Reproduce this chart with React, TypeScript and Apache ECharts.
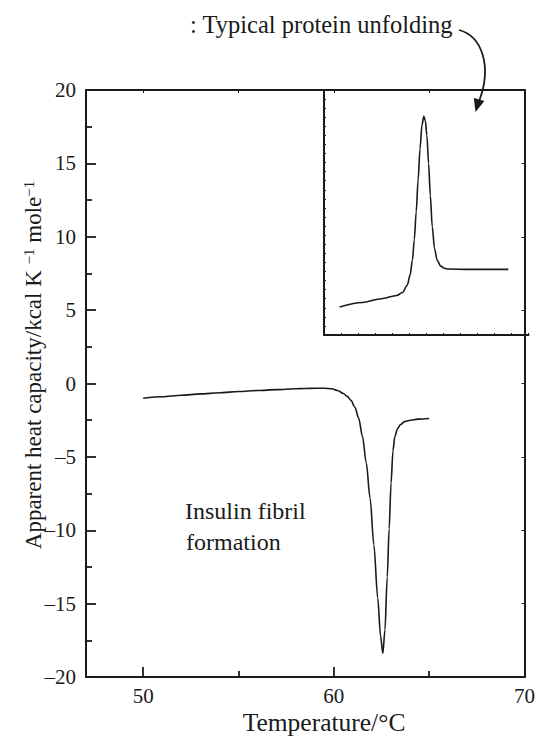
import React, { useEffect, useRef } from "react";
import * as echarts from "echarts";

// Main curve: insulin fibril formation (exothermic dip)
const mainTemp = [50, 51, 52, 53, 54, 55, 56, 57, 58, 58.5, 59, 59.5, 59.9, 60.2, 60.5, 60.7, 60.9, 61.1, 61.3, 61.5, 61.7, 61.9, 62.1, 62.3, 62.45, 62.57, 62.68, 62.8, 62.9, 63.0, 63.1, 63.2, 63.35, 63.5, 63.7, 64.0, 64.4, 65.0];
const mainCp = [-1.0, -0.9, -0.8, -0.71, -0.63, -0.55, -0.48, -0.42, -0.36, -0.34, -0.32, -0.32, -0.36, -0.48, -0.68, -0.88, -1.15, -1.6, -2.35, -3.6, -5.4, -7.8, -11.0, -14.6, -17.2, -18.4, -16.8, -13.2, -9.9, -6.8, -4.6, -3.6, -3.05, -2.8, -2.6, -2.5, -2.43, -2.38];

// Inset curve: typical protein unfolding (endothermic peak)
const insetTemp = [60.3, 61.5, 62.5, 63.3, 63.6, 63.85, 64.0, 64.12, 64.22, 64.32, 64.42, 64.52, 64.62, 64.72, 64.8, 64.88, 64.97, 65.06, 65.16, 65.28, 65.42, 65.6, 65.8, 66.0, 67.0, 68.0, 69.15];
const insetCp = [5.22, 5.52, 5.78, 6.0, 6.2, 6.7, 7.4, 8.4, 9.8, 11.7, 13.9, 16.0, 17.6, 18.2, 17.9, 16.9, 15.0, 12.8, 10.7, 9.2, 8.4, 8.0, 7.85, 7.8, 7.78, 7.78, 7.78];

const xMajorTicks = [50, 60, 70];
const xMinorTicks = [55, 65];
const xAllTicks = [50, 55, 60, 65, 70];

const FONT = "Liberation Serif";
const INK = "#1a1a1a";

export default function App() {
  const ref = useRef<HTMLDivElement>(null);
  useEffect(() => {
    if (!ref.current) return;
    const chart = echarts.init(ref.current, null, { renderer: "svg" });
    const axisLine = { show: true, onZero: false, lineStyle: { color: INK, width: 2 } };
    const option: any = {
      animation: false,
      backgroundColor: "#fff",
      textStyle: { fontFamily: FONT },
      grid: [
        { left: 86, right: 9.5, top: 90, bottom: 59 },
        { left: 324, right: 9.5, top: 90, height: 245 },
      ],
      xAxis: [
        {
          gridIndex: 0, type: "value", min: 47, max: 70, position: "bottom",
          axisLine,
          axisTick: { show: true, inside: true, length: 10, customValues: xMajorTicks, lineStyle: { color: INK, width: 1.8 } },
          axisLabel: { show: true, customValues: xMajorTicks, fontFamily: FONT, fontSize: 21, color: INK, margin: 8 },
          splitLine: { show: false },
        },
        {
          gridIndex: 0, type: "value", min: 47, max: 70, position: "bottom",
          axisLine: { show: false, onZero: false },
          axisTick: { show: true, inside: true, length: 6, customValues: xMinorTicks, lineStyle: { color: INK, width: 1.8 } },
          axisLabel: { show: false },
          splitLine: { show: false },
        },
        {
          gridIndex: 0, type: "value", min: 47, max: 70, position: "top",
          axisLine,
          axisTick: { show: true, inside: true, length: 3, customValues: xAllTicks, lineStyle: { color: INK, width: 1 } },
          axisLabel: { show: false },
          splitLine: { show: false },
        },
        {
          gridIndex: 1, type: "value", min: 0, max: 12, interval: 1, position: "bottom",
          axisLine,
          axisTick: { show: true, inside: true, length: 2, lineStyle: { color: INK, width: 1 } },
          axisLabel: { show: false },
          splitLine: { show: false },
        },
      ],
      yAxis: [
        {
          gridIndex: 0, type: "value", min: -20, max: 20, interval: 5, position: "left",
          axisLine,
          axisTick: { show: true, inside: true, length: 10, lineStyle: { color: INK, width: 1.8 } },
          minorTick: { show: true, splitNumber: 2, length: 6, lineStyle: { color: INK, width: 1.8 } },
          axisLabel: {
            show: true, fontFamily: FONT, fontSize: 21, color: INK, margin: 10,
            formatter: (v: number) => (v < 0 ? "\u2013" + Math.abs(v) : String(v)),
          },
          splitLine: { show: false },
        },
        {
          gridIndex: 0, type: "value", min: -20, max: 20, interval: 5, position: "right",
          axisLine,
          axisTick: { show: true, inside: true, length: 3, lineStyle: { color: INK, width: 1 } },
          axisLabel: { show: false },
          splitLine: { show: false },
        },
        {
          gridIndex: 1, type: "value", min: 0, max: 27, interval: 1, position: "left",
          axisLine,
          axisTick: { show: true, inside: true, length: 2, lineStyle: { color: INK, width: 1 } },
          axisLabel: { show: false },
          splitLine: { show: false },
        },
      ],
      series: [
        {
          type: "line", xAxisIndex: 0, yAxisIndex: 0,
          data: mainTemp.map((t, i) => [t, mainCp[i]]),
          showSymbol: false, smooth: 0.3, smoothMonotone: "x",
          lineStyle: { color: INK, width: 1.6 },
        },
        {
          type: "line", xAxisIndex: 0, yAxisIndex: 0,
          data: insetTemp.map((t, i) => [t, insetCp[i]]),
          showSymbol: false, smooth: 0.3, smoothMonotone: "x",
          lineStyle: { color: INK, width: 1.6 },
        },
      ],
      graphic: [
        {
          type: "text", left: 190, top: 12,
          style: { text: ": Typical protein unfolding", fontFamily: FONT, fontSize: 24.5, fill: INK },
        },
        {
          type: "bezierCurve",
          shape: { x1: 459, y1: 30, cpx1: 482, cpy1: 36, cpx2: 492, cpy2: 66, x2: 479.5, y2: 100 },
          style: { stroke: INK, lineWidth: 1.8, fill: "none" },
        },
        {
          type: "polygon",
          shape: { points: [[475.5, 112], [473.8, 98], [484.4, 101]] },
          style: { fill: INK },
        },
        {
          type: "text", x: 185, y: 511,
          style: { text: "Insulin fibril", fontFamily: FONT, fontSize: 24, fill: INK, textAlign: "left", textVerticalAlign: "middle" },
        },
        {
          type: "text", x: 186, y: 542,
          style: { text: "formation", fontFamily: FONT, fontSize: 24, fill: INK, textAlign: "left", textVerticalAlign: "middle" },
        },
        {
          type: "text", x: 324, y: 722,
          style: { text: "Temperature/°C", fontFamily: FONT, fontSize: 25.5, fill: INK, textAlign: "center", textVerticalAlign: "middle" },
        },
        {
          type: "text", x: 33, y: 365, rotation: Math.PI / 2,
          style: {
            text: "Apparent heat capacity/kcal K {sup|\u22121} mole{sup|\u22121}",
            fontFamily: FONT, fontSize: 23, fill: INK,
            textAlign: "center", textVerticalAlign: "middle",
            rich: {
              sup: { fontFamily: FONT, fontSize: 15, fill: INK, verticalAlign: "top", lineHeight: 14 },
            },
          },
        },
      ],
    };
    chart.setOption(option);
    return () => chart.dispose();
  }, []);
  return <div ref={ref} style={{ position: "fixed", left: 0, top: 0, width: 538, height: 736 }} />;
}
